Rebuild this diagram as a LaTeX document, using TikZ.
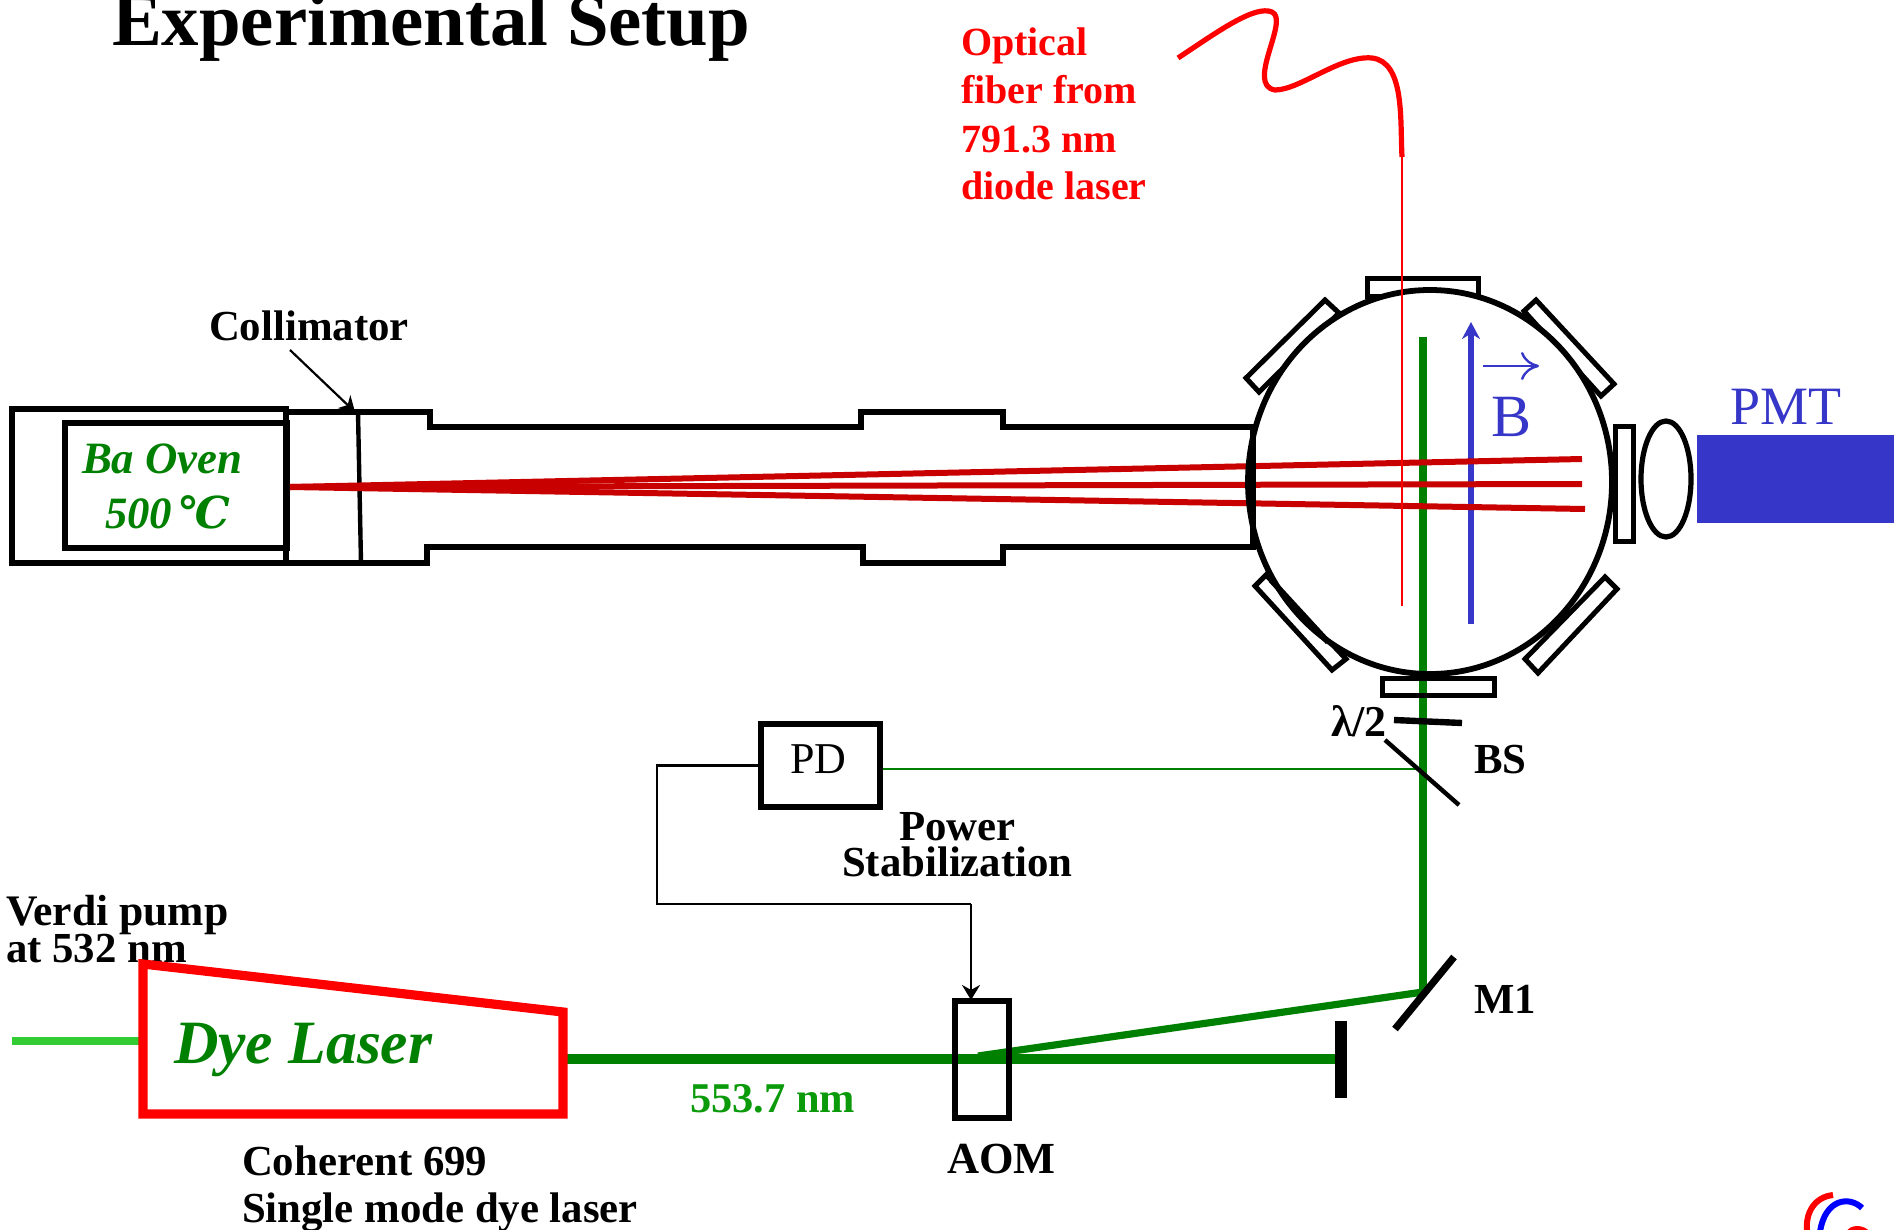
\documentclass[tikz,border=0pt]{standalone}
\usepackage{fontspec}
\setmainfont{Liberation Serif}
\newfontfamily\degfont{DejaVu Serif}
\definecolor{BeamGreen}{HTML}{008000}
\definecolor{PumpGreen}{HTML}{33CC33}
\definecolor{LabelGreen}{HTML}{0A9A0A}
\definecolor{AtomRed}{HTML}{C80000}
\definecolor{FiberRed}{HTML}{FF0000}
\definecolor{FieldBlue}{HTML}{3636C8}
\usetikzlibrary{positioning,arrows.meta,shapes.geometric}

\begin{document}
\begin{tikzpicture}[
  x=0.5pt, y=-0.5pt,
  txt/.style={inner sep=0pt, outer sep=0pt, anchor=base west, align=left},
  lbl/.style={txt, font=\fontsize{21.4}{19}\selectfont\bfseries},
  greenlbl/.style={txt, text=BeamGreen, font=\fontsize{22.4}{28}\selectfont\bfseries\itshape},
  bluelbl/.style={txt, text=FieldBlue, font=\fontsize{27}{27}\selectfont},
  vac/.style={draw, line width=2.8pt, line join=miter},
  port/.style={draw, line width=2.5pt, fill=white},
  opt/.style={draw, line width=3.2pt},
  box/.style={rectangle, draw, line width=2.8pt, inner sep=0pt, outer sep=0pt},
  chamber/.style={ellipse, inner sep=0pt, outer sep=0pt, minimum width=182pt, minimum height=192pt},
  beam/.style={draw=AtomRed, line width=3pt},
  laser/.style={draw=BeamGreen, line width=3.6pt},
  wire/.style={draw, line width=1.1pt},
  arr/.style={-{Stealth[length=7.5pt,width=9pt]}, line width=1.1pt}
]
\useasboundingbox (0,0) rectangle (1894,1230);

% =========================================================
% TITLE AND FIBER
% =========================================================

\node[txt, font=\fontsize{37.4}{37.4}\selectfont\bfseries] (title) at (112,46) {Experimental Setup};

\node[txt, text=FiberRed, font=\fontsize{20}{24}\selectfont\bfseries] (fiberlbl) at (961,200)
{Optical\\fiber from\\791.3 nm\\diode laser};

\coordinate (fiberend) at (1402,157);
\coordinate (fiberbeamend) at (1402,606);

\draw[FiberRed, line width=2.6pt] (1178,58) .. controls (1220,30) and (1255,5) .. (1272,12)
  .. controls (1290,20) and (1245,85) .. (1275,90)
  .. controls (1300,90) and (1340,55) .. (1372,58)
  .. controls (1405,62) and (1400,120) .. (fiberend);

% =========================================================
% OVEN AND TUBE
% =========================================================

\node[box, minimum width=111pt, minimum height=62.5pt, anchor=north west] (oven) at (65,423) {};
\node[greenlbl] (ovenlbl) at (82,473) {Ba Oven};
\node[greenlbl] (templbl) at (105,528) {500 \kern-3pt{\degfont\fontsize{22}{22}\selectfont\bfseries\itshape ℃}};

\draw[vac] (12,409) -- (286,409) -- (286,563) -- (12,563) -- cycle;
\draw[vac] (286,412) -- (430,412) -- (430,427) -- (861,427) -- (861,412) -- (1003,412) -- (1003,427) -- (1253,427) -- (1253,547)
  -- (1003,547) -- (1003,563) -- (863,563) -- (863,547) -- (427,547) -- (427,563) -- (286,563);
\draw[line width=2.2pt] (358,412) -- (361,563);

\node[lbl] (colllbl) at (209,340) {Collimator};
\coordinate (collstart) at (290,350);
\coordinate (colltip) at (355,412);
\draw[arr] (collstart) -- (colltip);

% =========================================================
% VACUUM CHAMBER
% =========================================================

\draw[port] (1325,300) -- (1246,378) -- (1259,392) -- (1339,313) -- cycle;
\draw[port] (1536,300) -- (1614,384) -- (1601,396) -- (1524,311) -- cycle;
\draw[port] (1255,586) -- (1332,670) -- (1346,659) -- (1266,575) -- cycle;
\draw[port] (1605,577) -- (1617,589) -- (1538,673) -- (1525,659) -- cycle;
\draw[port] (1367,278) rectangle (1478,296);

\node[chamber, fill=white] (chamberbg) at (1430,482) {};

\coordinate (greentop) at (1423,337);
\coordinate (bs) at (1423,769);
\coordinate (m1) at (1423,992);
\coordinate (aomout) at (978,1056);
\coordinate (dyeout) at (563,1059);
\coordinate (stop) at (1338,1059);

% green beams
\draw[laser] (greentop) -- (m1);
\draw[laser] (m1) -- (aomout);
\draw[BeamGreen, line width=5.4pt] (dyeout) -- (stop);
\draw[BeamGreen, line width=0.8pt] (880,769) -- (bs);

\draw[port, fill=none] (1382,678) rectangle (1494,695);

% atom beam and field
\coordinate (beamstart) at (290,487);
\draw[FieldBlue, line width=3pt, -{Stealth[length=8.5pt,width=9pt]}] (1471,624) -- (1471,322);
\draw[beam] (beamstart) -- (1582,459);
\draw[beam] (beamstart) -- (1582,484);
\draw[beam] (beamstart) -- (1585,509);

\node[chamber, draw, line width=2.9pt] (chamber) at (1430,482) {};
\draw[line width=2.9pt] (1271,580) -- (1328,642);
\draw[line width=2.9pt] (1253,427) -- (1253,547);
\draw[FiberRed, line width=0.8pt] (fiberend) -- (fiberbeamend);

\node[bluelbl, font=\fontsize{30}{30}\selectfont] (blbl) at (1491,436) {B};
\coordinate (bleft) at (1483,366);
\coordinate (bright) at (1539,366);
\draw[FieldBlue, line width=1.2pt, -{Computer Modern Rightarrow[length=9pt,width=14pt]}] (bleft) -- (bright);

% =========================================================
% DETECTION
% =========================================================

\draw[port] (1615,426) rectangle (1633,541);
\node[ellipse, draw, line width=2.6pt, inner sep=0pt, minimum width=25pt, minimum height=58pt] (lens) at (1666,479) {};
\fill[FieldBlue] (1697,435) rectangle (1894,523);
\node[bluelbl] (pmtlbl) at (1730,424) {PMT};

% =========================================================
% POWER STABILIZATION
% =========================================================

\node[txt] (lamlbl) at (1331,736) {\fontsize{22}{22}\selectfont\bfseries λ/2};
\draw[opt] (1394,720) -- (1462,723);
\draw[line width=2.2pt] (1385,740) -- (1459,805);
\node[lbl] (bslbl) at (1474,773) {BS};

\node[box, minimum width=59.5pt, minimum height=41.5pt, anchor=north west] (pd) at (761,724) {};
\node[txt] (pdlbl) at (790,773) {\fontsize{22}{22}\selectfont PD};
\node[lbl] (powerlbl) at (899,840) {Power};
\node[lbl] (stablbl) at (842,876) {Stabilization};

\coordinate (fbk) at (657,904);
\coordinate (aomin) at (971,1000);
\draw[wire] (pd.west) -| (fbk) -- (fbk -| aomin);
\draw[arr] (fbk -| aomin) -- (aomin);

% =========================================================
% DYE LASER AND AOM
% =========================================================

\node[lbl, font=\fontsize{21.8}{19}\selectfont\bfseries] (verdilbl) at (6,925) {Verdi pump};
\node[lbl, font=\fontsize{21.4}{19}\selectfont\bfseries] (atlbl) at (6,962) {at 532 nm};
\draw[PumpGreen, line width=4pt] (12,1041) -- (143,1041);

\draw[FiberRed, line width=4.6pt, line join=miter] (143,964) -- (563,1012) -- (563,1114) -- (143,1114) -- cycle;
\node[txt, text=BeamGreen, font=\fontsize{30.8}{30.8}\selectfont\bfseries\itshape] (dyelbl) at (174,1063) {Dye Laser};
\node[txt, text=LabelGreen, font=\fontsize{21.2}{21.2}\selectfont\bfseries] (lamlaser) at (690,1112) {553.7 nm};
\node[lbl] (cohlbl) at (242,1175) {Coherent 699};
\node[lbl] (singlbl) at (242,1222) {Single mode dye laser};

\node[box, minimum width=27pt, minimum height=58.5pt, anchor=north west] (aom) at (955,1001) {};
\node[txt, font=\fontsize{22.2}{22.2}\selectfont\bfseries] (aomlbl) at (947,1173) {AOM};

\draw[line width=6pt] (1341,1021) -- (1341,1098);
\draw[opt, line width=3.6pt] (1454,957) -- (1395,1029);
\node[lbl] (m1lbl) at (1474,1013) {M1};

% logo fragment
\draw[FiberRed, line width=3pt] (1833,1195) .. controls (1815,1197) and (1805,1212) .. (1807,1232);
\draw[blue, line width=3pt] (1862,1208) .. controls (1850,1196) and (1825,1198) .. (1820,1232);
\fill[FiberRed] (1846,1232) .. controls (1850,1224) and (1864,1224) .. (1870,1232) -- cycle;

\end{tikzpicture}
\end{document}
